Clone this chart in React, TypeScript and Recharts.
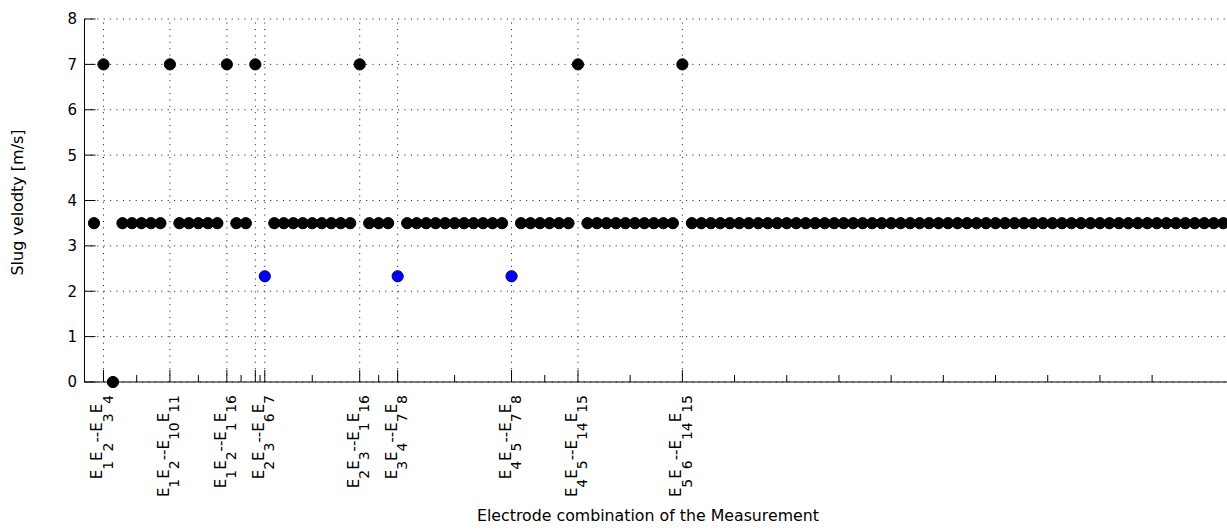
import React from 'react';
import { ScatterChart, Scatter, XAxis, YAxis, CartesianGrid, ReferenceLine, Label } from 'recharts';

// slug velocity [m/s] for measurement 1..121
const velocity = [
  3.5, 7, 0, 3.5, 3.5, 3.5, 3.5, 3.5, 7, 3.5,
  3.5, 3.5, 3.5, 3.5, 7, 3.5, 3.5, 7, 2.33, 3.5,
  3.5, 3.5, 3.5, 3.5, 3.5, 3.5, 3.5, 3.5, 7, 3.5,
  3.5, 3.5, 2.33, 3.5, 3.5, 3.5, 3.5, 3.5, 3.5, 3.5,
  3.5, 3.5, 3.5, 3.5, 2.33, 3.5, 3.5, 3.5, 3.5, 3.5,
  3.5, 7, 3.5, 3.5, 3.5, 3.5, 3.5, 3.5, 3.5, 3.5,
  3.5, 3.5, 7, 3.5, 3.5, 3.5, 3.5, 3.5, 3.5, 3.5,
  3.5, 3.5, 3.5, 3.5, 3.5, 3.5, 3.5, 3.5, 3.5, 3.5,
  3.5, 3.5, 3.5, 3.5, 3.5, 3.5, 3.5, 3.5, 3.5, 3.5,
  3.5, 3.5, 3.5, 3.5, 3.5, 3.5, 3.5, 3.5, 3.5, 3.5,
  3.5, 3.5, 3.5, 3.5, 3.5, 3.5, 3.5, 3.5, 3.5, 3.5,
  3.5, 3.5, 3.5, 3.5, 3.5, 3.5, 3.5, 3.5, 3.5, 3.5,
  3.5,
];

// measurements drawn as blue markers
const blueIdx = [19, 33, 45];

// labelled ticks (with vertical grid) and their labels
const labeledTicks = [2, 9, 15, 18, 19, 29, 33, 45, 52, 63];
const tickLabels = [
  'E1E2--E3E4',
  'E1E2--E10E11',
  'E1E2--E1E16',
  '',
  'E2E3--E6E7',
  'E2E3--E1E16',
  'E3E4--E7E8',
  'E4E5--E7E8',
  'E4E5--E14E15',
  'E5E6--E14E15',
];
const minorTicks = [5.5, 12, 16.5, 18.5, 24, 31, 39, 48.5, 57.5, 68.5, 74, 79.5, 85, 90.5, 96, 101.5, 107, 112.5];
const yTicks = [0, 1, 2, 3, 4, 5, 6, 7, 8];

const X_MAX = 121;
const UNIT = 9.49;
const PLOT_LEFT = 84.5;
const PLOT_TOP = 19;
const PLOT_BOTTOM = 382;
const CHART_H = 531;
const CHART_W = PLOT_LEFT + X_MAX * UNIT;
const FONT = '"DejaVu Sans", Verdana, sans-serif';
const SUB_SHIFT = 10.5;

const allTicks = [...labeledTicks, ...minorTicks].sort((a, b) => a - b);

const blackData = velocity
  .map((v, i) => ({ idx: i + 1, v }))
  .filter((d) => !blueIdx.includes(d.idx));
const blueData = velocity
  .map((v, i) => ({ idx: i + 1, v }))
  .filter((d) => blueIdx.includes(d.idx));

// E1E2--E3E4 -> E with subscript digits
const renderSub = (label: string) => {
  const parts: React.ReactNode[] = [];
  let shifted = false;
  (label.match(/E\d+|-+/g) || []).forEach((tok, i) => {
    const isE = tok.startsWith('E');
    parts.push(
      <tspan key={i + 'm'} dy={shifted ? -SUB_SHIFT : 0}>
        {isE ? 'E' : tok}
      </tspan>
    );
    shifted = false;
    if (isE) {
      parts.push(
        <tspan key={i + 's'} dy={SUB_SHIFT} fontSize={14}>
          {tok.slice(1)}
        </tspan>
      );
      shifted = true;
    }
  });
  return parts;
};

const XTick = (props: any) => {
  const { x, payload } = props;
  const k = labeledTicks.indexOf(payload.value);
  const major = k >= 0;
  const label = major ? tickLabels[k] : '';
  return (
    <g>
      <line x1={x} x2={x} y1={PLOT_BOTTOM} y2={PLOT_BOTTOM - (major ? 12 : 7)} stroke="#000" />
      {label && (
        <text
          transform={`translate(${x - 1},${PLOT_BOTTOM + 13}) rotate(-90)`}
          textAnchor="end"
          fontSize={15}
          fontFamily={FONT}
          fill="#000"
        >
          {renderSub(label)}
        </text>
      )}
    </g>
  );
};

const YTick = (props: any) => {
  const { y, payload } = props;
  return (
    <g>
      <line x1={PLOT_LEFT} x2={PLOT_LEFT + 11} y1={y} y2={y} stroke="#000" />
      <text x={PLOT_LEFT - 7.5} y={y} dy="0.36em" textAnchor="end" fontSize={15} fontFamily={FONT} fill="#000">
        {payload.value}
      </text>
    </g>
  );
};

const dot = (fill: string, stroke: string) => (props: any) => (
  <circle cx={props.cx} cy={props.cy} r={5.6} fill={fill} stroke={stroke} strokeWidth={1} />
);

export default function App() {
  return (
    <div
      style={{
        position: 'absolute',
        left: 0,
        top: 0,
        width: 1227,
        height: CHART_H,
        overflow: 'hidden',
        background: '#fff',
      }}
    >
      <ScatterChart
        width={CHART_W}
        height={CHART_H}
        margin={{ top: PLOT_TOP, right: 0, bottom: 0, left: 24.5 }}
      >
        <CartesianGrid vertical={false} stroke="#111" strokeDasharray="1 5.4" />
        {labeledTicks.map((t) => (
          <ReferenceLine key={t} x={t} stroke="#111" strokeDasharray="1 5.4" />
        ))}
        <XAxis
          type="number"
          dataKey="idx"
          domain={[0, X_MAX]}
          ticks={allTicks}
          interval={0}
          tick={XTick}
          tickLine={false}
          tickSize={0}
          tickMargin={0}
          height={CHART_H - PLOT_BOTTOM}
          axisLine={{ stroke: '#000' }}
        >
          <Label
            content={() => (
              <text x={648} y={521.5} textAnchor="middle" fontSize={15.8} fontFamily={FONT} fill="#000">
                Electrode combination of the Measurement
              </text>
            )}
          />
        </XAxis>
        <YAxis
          type="number"
          dataKey="v"
          domain={[0, 8]}
          ticks={yTicks}
          interval={0}
          tick={YTick}
          tickLine={false}
          tickSize={0}
          tickMargin={0}
          width={60}
          axisLine={{ stroke: '#000' }}
        >
          <Label
            content={() => (
              <text
                transform="translate(23.5,202.5) rotate(-90)"
                textAnchor="middle"
                fontSize={16}
                fontFamily={FONT}
                fill="#000"
              >
                Slug velodty [m/s]
              </text>
            )}
          />
        </YAxis>
        <Scatter data={blackData} shape={dot('#000', '#000')} isAnimationActive={false} />
        <Scatter data={blueData} shape={dot('#0000ff', '#00007a')} isAnimationActive={false} />
      </ScatterChart>
    </div>
  );
}
